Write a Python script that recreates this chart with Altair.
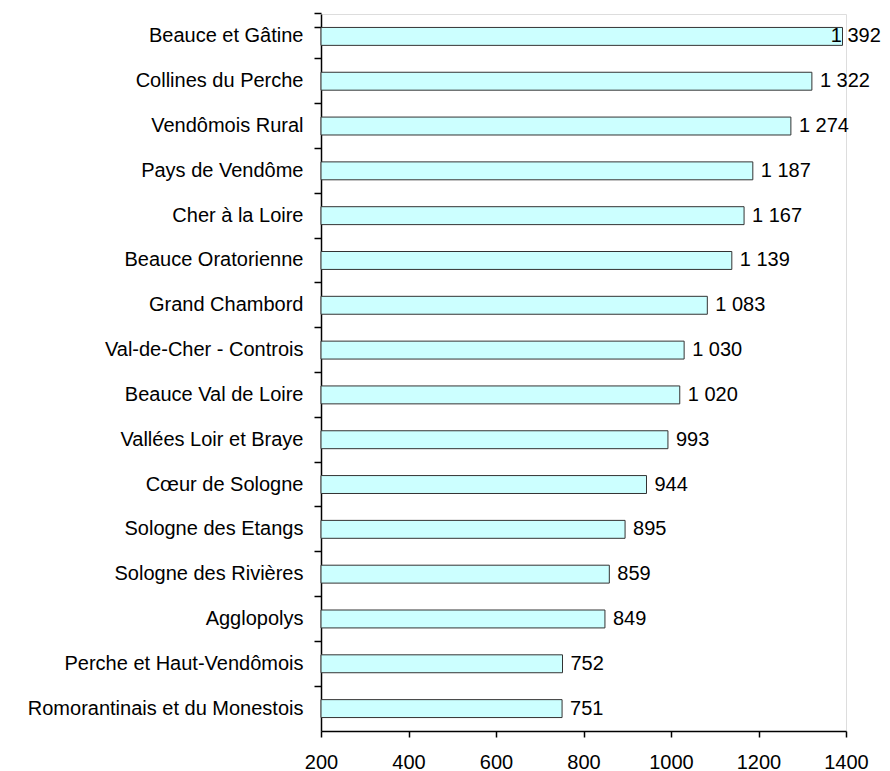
import altair as alt
import pandas as pd

categories = [
    "Beauce et Gâtine", "Collines du Perche", "Vendômois Rural", "Pays de Vendôme",
    "Cher à la Loire", "Beauce Oratorienne", "Grand Chambord", "Val-de-Cher - Controis",
    "Beauce Val de Loire", "Vallées Loir et Braye", "Cœur de Sologne", "Sologne des Etangs",
    "Sologne des Rivières", "Agglopolys", "Perche et Haut-Vendômois",
    "Romorantinais et du Monestois",
]
values = [1392, 1322, 1274, 1187, 1167, 1139, 1083, 1030, 1020, 993, 944, 895, 859, 849, 752, 751]
x_ticks = [200, 400, 600, 800, 1000, 1200, 1400]

df = pd.DataFrame({
    "cat": categories,
    "value": values,
    "label": [f"{v:,}".replace(",", " ") for v in values],
})

FONT = "Liberation Sans"
FS = 20

y_enc = alt.Y(
    "cat:N", sort=categories, title=None,
    scale=alt.Scale(paddingInner=0.6, paddingOuter=0.3),
    axis=alt.Axis(
        labelFont=FONT, labelFontSize=FS, labelColor="black", labelPadding=11,
        labelLimit=500,
        domainColor="black", domainWidth=1.5, tickColor="black", tickWidth=1.5,
        tickSize=7, bandPosition=-0.75, tickExtra=True, grid=False,
    ),
)
x_scale = alt.Scale(domain=[200, 1400], nice=False, zero=False)

bars = alt.Chart(df).mark_bar(
    color="#CCFFFF", stroke="#333333", strokeWidth=1
).encode(
    x=alt.X("value:Q", scale=x_scale, title=None,
            axis=alt.Axis(values=x_ticks, format="d", labelFont=FONT, labelFontSize=FS,
                          labelColor="black", labelPadding=15, labelFlush=False,
                          labelOverlap=False, domainColor="black",
                          domainWidth=1.5, tickColor="black", tickWidth=1.5, tickSize=6,
                          grid=False)),
    x2=alt.datum(200),
    y=y_enc,
)

text = alt.Chart(df).transform_calculate(
    pos="min(datum.value, 1347)"
).mark_text(
    align="left", baseline="middle", dx=8, font=FONT, fontSize=FS, color="black"
).encode(
    x=alt.X("pos:Q", scale=x_scale, title=None),
    y=alt.Y("cat:N", sort=categories, title=None),
    text="label:N",
)

chart = alt.layer(bars, text).properties(
    width=525, height=717,
    autosize=alt.AutoSizeParams(type="none"),
    padding={"left": 313, "top": 6, "right": 36, "bottom": 40},
).configure_view(strokeWidth=0).configure(background="white")

chart.save("out.html", embed_options={"renderer": "svg", "actions": False})
